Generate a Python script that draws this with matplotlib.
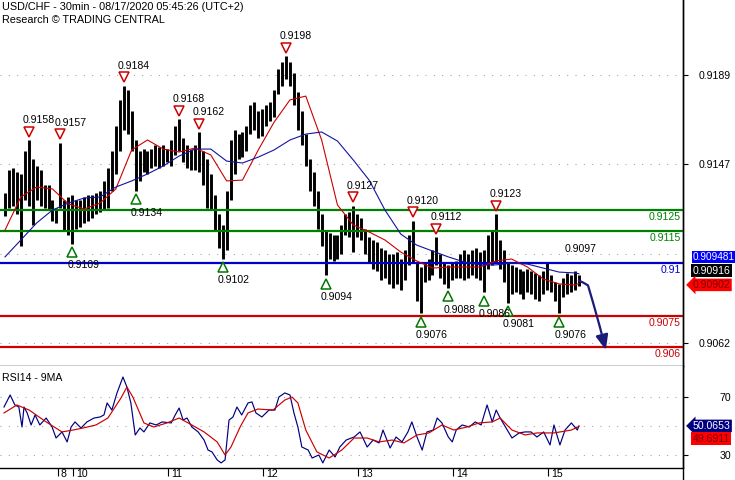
import numpy as np
import matplotlib
matplotlib.use("Agg")
import matplotlib.pyplot as plt
from matplotlib import transforms
from matplotlib.lines import Line2D

plt.rcParams['font.family'] = ['Liberation Sans', 'DejaVu Sans']

# ---------------- data ----------------
# hourly bars (x = hours from chart start), prices in units of 0.0001
bar_high_pips = [9133, 9144, 9145, 9143, 9142, 9153, 9158, 9149, 9146, 9144,
                 9137, 9137, 9130, 9126, 9157, 9130, 9131, 9132, 9130, 9130,
                 9131, 9132, 9132, 9133, 9134, 9139, 9145, 9153, 9165, 9177,
                 9184, 9182, 9172, 9158, 9153, 9154, 9153, 9154, 9156, 9155,
                 9156, 9154, 9158, 9165, 9168, 9159, 9156, 9154, 9156, 9162,
                 9153, 9149, 9142, 9132, 9123, 9118, 9134, 9158, 9163, 9161,
                 9162, 9165, 9175, 9176, 9172, 9173, 9175, 9176, 9182, 9192,
                 9195, 9198, 9195, 9190, 9181, 9172, 9161, 9149, 9143, 9134,
                 9123, 9115, 9114, 9113, 9113, 9118, 9123, 9124, 9127, 9123,
                 9121, 9116, 9112, 9111, 9110, 9107, 9106, 9104, 9104, 9105,
                 9102, 9106, 9113, 9120, 9100, 9098, 9100, 9102, 9106, 9112,
                 9104, 9100, 9099, 9100, 9101, 9104, 9106, 9104, 9106, 9107,
                 9105, 9106, 9113, 9115, 9123, 9111, 9106, 9100, 9099, 9098,
                 9097, 9096, 9097, 9096, 9095, 9094, 9096, 9100, 9094, 9091,
                 9090, 9093, 9095, 9094, 9096, 9094]
bar_low_pips = [9122, 9126, 9127, 9123, 9108, 9130, 9127, 9118, 9130, 9127,
                9126, 9125, 9120, 9119, 9126, 9115, 9113, 9109, 9116, 9117,
                9119, 9120, 9121, 9123, 9124, 9125, 9126, 9134, 9142, 9153,
                9163, 9161, 9153, 9134, 9139, 9143, 9142, 9145, 9146, 9145,
                9146, 9148, 9146, 9151, 9153, 9148, 9145, 9144, 9144, 9143,
                9137, 9126, 9125, 9115, 9107, 9102, 9106, 9130, 9142, 9149,
                9150, 9153, 9161, 9163, 9159, 9160, 9165, 9167, 9169, 9180,
                9184, 9187, 9184, 9175, 9163, 9156, 9146, 9134, 9127, 9116,
                9108, 9094, 9102, 9101, 9102, 9104, 9113, 9112, 9105, 9112,
                9111, 9104, 9100, 9097, 9096, 9092, 9093, 9090, 9088, 9090,
                9087, 9092, 9099, 9100, 9082, 9076, 9091, 9092, 9094, 9099,
                9093, 9090, 9088, 9092, 9093, 9093, 9092, 9093, 9094, 9093,
                9092, 9086, 9097, 9099, 9100, 9097, 9091, 9081, 9085, 9086,
                9085, 9083, 9086, 9085, 9083, 9082, 9085, 9087, 9086, 9082,
                9076, 9084, 9085, 9086, 9087, 9089]

# moving averages read at every 4th bar (+ last bar)
ma_bars = list(range(0, 145, 4)) + [145]
red_ma_pips = [9115.5, 9131.2, 9135.9, 9135.0, 9127.9, 9125.5, 9128.3, 9135.0, 9153.5, 9158.2,
               9153.9, 9152.5, 9154.4, 9151.1, 9138.8, 9139.2, 9153.5, 9166.7, 9177.2, 9179.0,
               9158.2, 9127.4, 9117.9, 9114.6, 9110.8, 9105.1, 9100.9, 9097.5, 9098.0, 9098.0,
               9098.0, 9100.9, 9101.8, 9098.0, 9092.3, 9090.0, 9089.5, 9090.2]
blue_ma_pips = [9102.8, 9110.8, 9118.9, 9125.0, 9128.3, 9130.7, 9131.2, 9135.9, 9138.8, 9142.1,
                9145.9, 9150.6, 9153.9, 9153.9, 9148.2, 9147.3, 9150.1, 9153.5, 9158.2, 9161.0,
                9162.0, 9157.7, 9148.7, 9139.2, 9125.0, 9113.6, 9108.4, 9105.6, 9102.8, 9100.4,
                9099.0, 9099.0, 9099.9, 9099.4, 9097.5, 9095.6, 9095.2, 9094.8]

# support / resistance levels
level_values = [0.9125, 0.9115, 0.9100, 0.9075, 0.9060]
level_labels = ['0.9125', '0.9115', '0.91', '0.9075', '0.906']
level_colors = ['#008000', '#008000', '#0000cc', '#cc0000', '#cc0000']

# swing highs / lows
peak_bars = [6, 14, 30, 44, 49, 71, 88, 103, 109, 124]
peak_values = [0.9158, 0.9157, 0.9184, 0.9168, 0.9162, 0.9198, 0.9127, 0.9120, 0.9112, 0.9123]
trough_bars = [17, 33, 55, 81, 105, 112, 121, 127, 140]
trough_values = [0.9109, 0.9134, 0.9102, 0.9094, 0.9076, 0.9088, 0.9086, 0.9081, 0.9076]
extra_label_bar = 143
extra_label_value = 0.9097

# forecast path
forecast_h = [145, 146.2, 147.3, 148.6, 150.3, 151.8]
forecast_p = [0.90916, 0.90905, 0.90893, 0.90810, 0.90696, 0.90587]

# RSI(14) and its 9MA
rsi_h = [-0.25, 1.3, 2.5, 3.5, 4.3, 4.8, 5.6, 6.6, 7.6, 8.8,
         10.4, 11.9, 12.9, 14.4, 15.7, 16.7, 17.7, 19.2, 20.7, 22.5,
         24.0, 25.0, 25.8, 27.0, 28.3, 29.8, 30.8, 31.8, 32.9, 34.1,
         35.1, 36.6, 38.2, 39.7, 42.0, 43.0, 44.0, 45.0, 46.0, 47.2,
         48.8, 50.3, 51.3, 52.3, 53.6, 54.6, 55.6, 56.1, 56.6, 57.6,
         58.6, 59.8, 61.4, 62.4, 63.4, 64.9, 66.7, 68.2, 69.2, 70.7,
         72.0, 73.0, 74.0, 75.0, 76.6, 77.6, 79.3, 80.3, 81.9, 83.4,
         84.6, 86.2, 88.2, 89.7, 91.5, 93.0, 94.5, 95.5, 97.3, 98.8,
         100.3, 101.8, 102.8, 104.1, 105.4, 106.6, 108.2, 109.2, 110.4, 112.0,
         113.0, 114.0, 115.5, 117.3, 118.8, 120.3, 121.8, 123.1, 124.1, 125.1,
         126.6, 128.1, 129.9, 131.4, 132.9, 134.4, 136.1, 137.7, 138.7, 140.2,
         141.5, 143.1, 144.6, 145.0]
rsi_v = [63.1, 71.4, 64.5, 63.1, 49.3, 63.1, 59.0, 50.7, 57.6, 50.7,
         55.5, 49.3, 41.7, 45.9, 39.0, 49.3, 52.8, 48.6, 52.8, 55.5,
         56.2, 57.6, 65.9, 61.0, 72.8, 83.8, 76.9, 65.9, 43.8, 48.6,
         45.9, 52.1, 50.7, 52.8, 52.1, 57.6, 62.4, 54.1, 55.5, 49.3,
         45.9, 40.3, 33.4, 32.1, 26.6, 24.5, 26.6, 40.3, 54.1, 56.2,
         63.1, 57.6, 65.9, 66.6, 59.0, 56.2, 61.0, 61.0, 70.0, 72.8,
         71.4, 59.0, 49.3, 35.5, 33.4, 27.9, 30.0, 24.5, 33.4, 28.6,
         35.5, 40.3, 42.4, 45.9, 35.5, 40.3, 38.3, 47.2, 34.8, 42.4,
         39.0, 45.9, 52.8, 42.4, 33.4, 45.9, 47.2, 55.5, 52.1, 42.4,
         39.0, 47.2, 50.7, 49.3, 52.8, 50.7, 64.5, 52.8, 61.0, 55.5,
         48.6, 41.7, 45.2, 45.9, 45.9, 42.4, 45.9, 36.9, 50.7, 36.9,
         47.2, 52.1, 47.2, 50.07]
rsi_ma_h = [-0.25, 3.0, 6.1, 10.4, 14.4, 17.2, 19.7, 23.0, 26.0, 29.3,
            30.8, 32.3, 35.1, 37.6, 40.9, 44.0, 47.2, 50.3, 53.6, 55.6,
            57.1, 59.4, 61.4, 63.9, 67.7, 70.7, 72.5, 74.0, 76.0, 78.8,
            81.9, 85.1, 88.2, 91.5, 94.5, 97.8, 100.8, 104.1, 107.1, 110.4,
            113.4, 116.7, 119.8, 123.1, 125.1, 128.1, 131.4, 134.4, 138.7, 143.1,
            145.0]
rsi_ma_v = [59.0, 64.5, 61.0, 52.8, 45.9, 47.2, 48.6, 50.7, 55.5, 69.3,
            76.9, 70.0, 52.1, 49.3, 52.1, 55.5, 50.7, 45.9, 39.0, 30.0,
            35.5, 49.3, 59.0, 61.7, 61.0, 67.9, 70.0, 65.9, 47.2, 32.1,
            27.9, 33.4, 41.7, 41.7, 39.0, 40.3, 38.3, 43.8, 45.2, 50.7,
            47.2, 49.3, 52.1, 52.8, 55.5, 47.2, 43.8, 45.2, 45.2, 47.2,
            49.69]

# axes / labels
price_ticks = [0.9189, 0.9147, 0.9062]
price_grid = [0.9189, 0.9147, 0.9104, 0.9062]
rsi_ticks = [70, 30]
rsi_grid = [70, 50, 30]
day_ticks = [13.4, 17.25, 41.25, 65.25, 89.25, 113.25, 137.25]
day_labels = ['8', '10', '11', '12', '13', '14', '15']

last_price = 0.90916
last_red_ma = 0.90902
last_blue_ma = 0.909481
last_rsi = 50.0653
last_rsi_ma = 49.6911

title1 = 'USD/CHF - 30min - 08/17/2020 05:45:26 (UTC+2)'
title2 = 'Research \u00a9 TRADING CENTRAL'

# ---------------- figure ----------------
W, H = 735, 480
fig = plt.figure(figsize=(W / 100, H / 100), dpi=100)
fig.patch.set_facecolor('white')
ax = fig.add_axes([0, 1 - 366 / H, 683 / W, 366 / H])
axr = fig.add_axes([0, 1 - 468 / H, 683 / W, 102 / H], sharex=ax)

FS = 7.6
bar_h = np.arange(len(bar_high_pips))
hi = np.array(bar_high_pips) / 1e4
lo = np.array(bar_low_pips) / 1e4

ax.set_xlim(-1.263, 171.3)
ax.set_ylim(0.905110, 0.922454)
axr.set_ylim(21.0, 91.4)

grid_kw = dict(color='#a0a0a0', lw=0.75, ls=(0, (1, 7)), zorder=0)
for g in price_grid:
    ax.axhline(g, **grid_kw)
for g in rsi_grid:
    axr.axhline(g, **grid_kw)

ax.vlines(bar_h, lo, hi, color='black', lw=2.1, zorder=2)

for v, lab, c in zip(level_values, level_labels, level_colors):
    ax.axhline(v, color=c, lw=1.6, zorder=3)
    ax.annotate(lab, xy=(1, v), xycoords=('axes fraction', 'data'),
                xytext=(-1.5, -5.2), textcoords='offset points',
                ha='right', va='center', fontsize=FS, color=c, zorder=5)

ax.plot(ma_bars, np.array(red_ma_pips) / 1e4, color='#cc0000', lw=0.8, zorder=4)
ax.plot(ma_bars, np.array(blue_ma_pips) / 1e4, color='#1414a0', lw=0.8, zorder=4)

up = transforms.offset_copy(ax.transData, fig=fig, x=0, y=6, units='points')
dn = transforms.offset_copy(ax.transData, fig=fig, x=0, y=-6, units='points')
ax.plot(peak_bars, peak_values, 'v', transform=up, ms=7, mfc='white',
        mec='#cc0000', mew=1.1, zorder=6)
ax.plot(trough_bars, trough_values, '^', transform=dn, ms=7, mfc='white',
        mec='#007700', mew=1.1, zorder=6)
for b, v in zip(peak_bars, peak_values):
    ax.annotate(f'{v:.4f}', xy=(b, v), xytext=(-4.5, 14.4), textcoords='offset points',
                ha='left', va='center', fontsize=FS, zorder=7)
for b, v in zip(trough_bars, trough_values):
    ax.annotate(f'{v:.4f}', xy=(b, v), xytext=(-3.5, -15.5), textcoords='offset points',
                ha='left', va='center', fontsize=FS, zorder=7)
ax.annotate(f'{extra_label_value:.4f}', xy=(extra_label_bar, extra_label_value),
            xytext=(-4.5, 14.4), textcoords='offset points',
            ha='left', va='center', fontsize=FS, zorder=7)

navy = '#1c1c78'
ax.plot(forecast_h[:-1], forecast_p[:-1], color=navy, lw=1.6, zorder=6,
        solid_capstyle='round')
ax.annotate('', xy=(forecast_h[-1], forecast_p[-1]),
            xytext=(forecast_h[-2], forecast_p[-2]),
            arrowprops=dict(arrowstyle='-|>,head_length=0.6,head_width=0.25',
                            color=navy, lw=1.6, mutation_scale=15,
                            shrinkA=0, shrinkB=0), zorder=6)

# RSI
axr.plot(rsi_h, rsi_v, color='#000080', lw=0.85, zorder=3)
axr.plot(rsi_ma_h, rsi_ma_v, color='#cc0000', lw=0.85, zorder=4)

# spines & ticks
for a in (ax, axr):
    a.spines['top'].set_visible(False)
    a.spines['left'].set_visible(False)
    a.spines['right'].set_color('black')
    a.spines['bottom'].set_color('black')
    a.spines['right'].set_linewidth(1.0)
    a.spines['bottom'].set_linewidth(1.0)
    a.yaxis.tick_right()
    a.tick_params(axis='y', direction='out', length=3.6, width=0.8, pad=31,
                  labelsize=FS, colors='black')

ax.set_yticks(price_ticks)
ax.set_yticklabels([f'{t:.4f}' for t in price_ticks])
axr.set_yticks(rsi_ticks)
axr.set_yticklabels([str(t) for t in rsi_ticks])
for a in (ax, axr):
    for lbl in a.get_yticklabels():
        lbl.set_horizontalalignment('right')

ax.tick_params(axis='x', bottom=False, labelbottom=False)
axr.set_xticks(day_ticks)
axr.set_xticklabels([''] * len(day_ticks))
axr.tick_params(axis='x', direction='out', length=6, width=0.8)
for t, lab in zip(day_ticks, day_labels):
    axr.annotate(lab, xy=(t, 0), xycoords=('data', 'axes fraction'),
                 xytext=(2.0, -4.6), textcoords='offset points',
                 ha='left', va='center', fontsize=FS, annotation_clip=False)

# right spine continues to figure bottom
x1 = ax.get_position().x1
fig.add_artist(Line2D([x1, x1], [0, 1], transform=fig.transFigure,
                      color='black', lw=1.0))

# value boxes on the right
def value_box(a, value, text, fc, tc, dy, style='square,pad=0.12', fs=FS):
    a.annotate(text, xy=(1, value), xycoords=('axes fraction', 'data'),
               xytext=(7.0, dy), textcoords='offset points',
               ha='left', va='center', fontsize=fs, color=tc,
               bbox=dict(boxstyle=style, fc=fc, ec='none'),
               annotation_clip=False, zorder=10)

value_box(ax, last_blue_ma, f'{last_blue_ma:.6f}', '#0000ff', 'white', 12.0, fs=7.2)
value_box(ax, last_price, f'{last_price:.5f}', 'black', 'white', 7.2)
value_box(ax, last_red_ma, f'{last_red_ma:.5f}', '#ff0000', '#7a0000', -1.0,
          style='larrow,pad=0.12')
value_box(axr, last_rsi, f'{last_rsi:.4f}', '#000080', 'white', 0.0,
          style='larrow,pad=0.12')
value_box(axr, last_rsi_ma, f'{last_rsi_ma:.4f}', '#ff0000', '#7a0000', -8.7)

# titles
fig.text(2 / W, 1 - 7 / H, title1, fontsize=7.8, va='center', ha='left')
fig.text(2 / W, 1 - 20 / H, title2, fontsize=7.8, va='center', ha='left')
fig.text(2 / W, 1 - 378 / H, 'RSI14 - 9MA', fontsize=FS, va='center', ha='left')

fig.savefig('out.png', dpi=100)
